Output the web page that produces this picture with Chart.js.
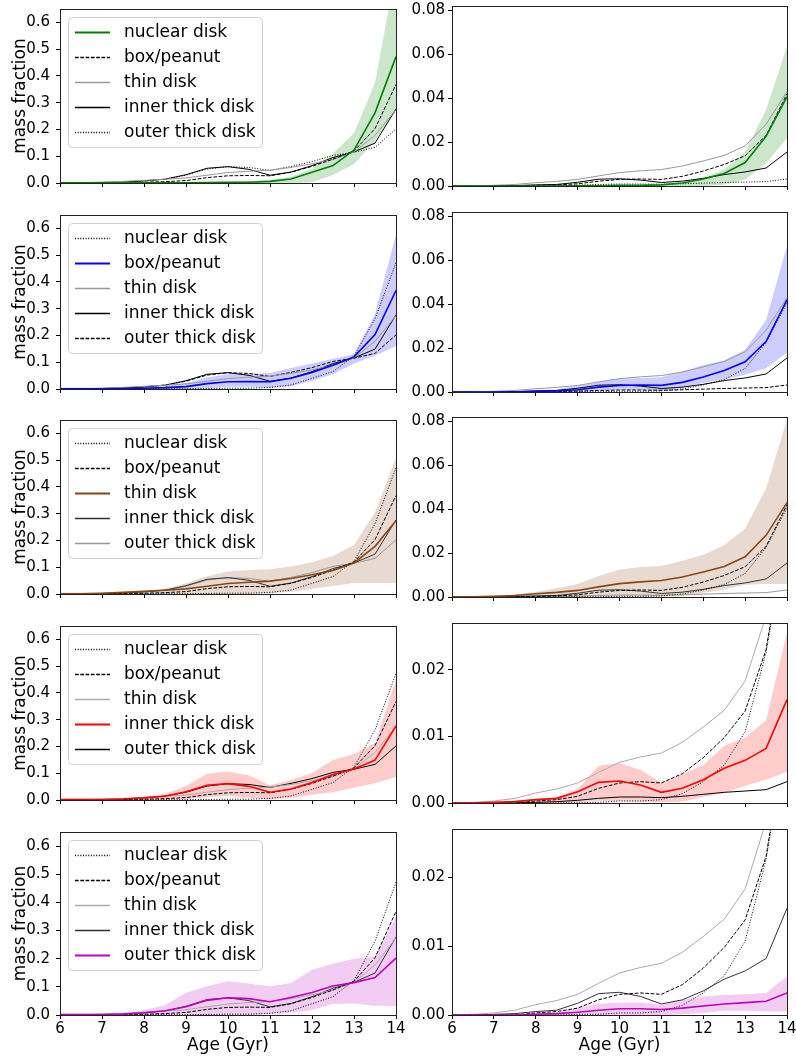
<!DOCTYPE html>
<html>
<head>
<meta charset="utf-8">
<script src="https://cdn.jsdelivr.net/npm/chart.js@4.4.1/dist/chart.umd.min.js"></script>
<style>
  body { margin: 0; background: #fff; width: 796px; height: 1058px; position: relative; overflow: hidden; }
  canvas { position: absolute; }
</style>
</head>
<body>
<script>
// age bins (Gyr)
const ages = [6, 6.5, 7, 7.5, 8, 8.5, 9, 9.5, 10, 10.5, 11, 11.5, 12, 12.5, 13, 13.5, 14];
const componentNames = ["nuclear disk", "box/peanut", "thin disk", "inner thick disk", "outer thick disk"];

// left column: mass fraction normalised within each component
const fracNuclear = [0.001, 0.001, 0.001, 0.001, 0.001, 0.001, 0.001, 0.002, 0.003, 0.003, 0.006, 0.015, 0.040, 0.065, 0.123, 0.262, 0.472];
const fracBox     = [0.001, 0.001, 0.001, 0.002, 0.003, 0.005, 0.009, 0.020, 0.027, 0.028, 0.027, 0.040, 0.062, 0.089, 0.120, 0.203, 0.368];
const fracThin    = [0.001, 0.001, 0.003, 0.006, 0.010, 0.014, 0.019, 0.029, 0.039, 0.044, 0.048, 0.058, 0.072, 0.088, 0.116, 0.178, 0.274];
const fracInner   = [0.002, 0.002, 0.002, 0.004, 0.008, 0.014, 0.031, 0.055, 0.061, 0.051, 0.029, 0.041, 0.065, 0.095, 0.116, 0.149, 0.277];
const fracOuter   = [0.002, 0.002, 0.002, 0.003, 0.008, 0.015, 0.029, 0.052, 0.061, 0.058, 0.047, 0.062, 0.080, 0.103, 0.115, 0.133, 0.202];

const fracNuclearLow  = [0, 0, 0, 0, 0, 0, 0, 0, 0, 0, 0, 0, 0.003, 0.030, 0.070, 0.158, 0.270];
const fracNuclearHigh = [0.002, 0.002, 0.002, 0.002, 0.002, 0.002, 0.003, 0.004, 0.005, 0.006, 0.012, 0.023, 0.053, 0.110, 0.187, 0.374, 0.800];
const fracBoxLow      = [0, 0, 0, 0, 0, 0, 0, 0.003, 0.008, 0.008, 0.004, 0.010, 0.031, 0.055, 0.095, 0.124, 0.161];
const fracBoxHigh     = [0.003, 0.003, 0.004, 0.005, 0.006, 0.010, 0.022, 0.043, 0.055, 0.057, 0.060, 0.078, 0.095, 0.113, 0.130, 0.280, 0.577];
const fracThinLow     = [0, 0, 0, 0, 0, 0, 0, 0, 0, 0.001, 0.003, 0.008, 0.020, 0.030, 0.041, 0.041, 0.041];
const fracThinHigh    = [0.002, 0.003, 0.004, 0.007, 0.010, 0.020, 0.040, 0.066, 0.084, 0.090, 0.092, 0.103, 0.119, 0.142, 0.183, 0.305, 0.508];
const fracInnerLow    = [0, 0, 0, 0, 0, 0, 0.003, 0.011, 0.015, 0.009, 0.002, 0.008, 0.020, 0.029, 0.046, 0.063, 0.086];
const fracInnerHigh   = [0.002, 0.002, 0.003, 0.004, 0.011, 0.023, 0.052, 0.098, 0.106, 0.092, 0.055, 0.075, 0.101, 0.149, 0.172, 0.213, 0.450];
const fracOuterLow    = [0, 0, 0, 0, 0, 0, 0, 0, 0, 0, 0.003, 0.008, 0.018, 0.039, 0.041, 0.033, 0.032];
const fracOuterHigh   = [0.003, 0.003, 0.004, 0.005, 0.018, 0.035, 0.079, 0.102, 0.120, 0.112, 0.102, 0.114, 0.161, 0.182, 0.200, 0.208, 0.350];

// right column: mass fraction of the whole galaxy
const massNuclear = [0, 0, 0, 0, 0, 0, 0.0001, 0.0001, 0.0003, 0.0003, 0.0005, 0.0014, 0.0032, 0.0057, 0.0107, 0.0226, 0.0406];
const massBox     = [0, 0, 0, 0, 0.0003, 0.0005, 0.0010, 0.0022, 0.0030, 0.0032, 0.0030, 0.0044, 0.0068, 0.0098, 0.0138, 0.0230, 0.0420];
const massThin    = [0, 0.0001, 0.0003, 0.0007, 0.0015, 0.0021, 0.0030, 0.0046, 0.0061, 0.0069, 0.0075, 0.0091, 0.0114, 0.0139, 0.0183, 0.0281, 0.0430];
const massInner   = [0, 0, 0.0001, 0.0002, 0.0005, 0.0007, 0.0017, 0.0031, 0.0033, 0.0027, 0.0016, 0.0022, 0.0035, 0.0052, 0.0064, 0.0082, 0.0155];
const massOuter   = [0, 0, 0, 0, 0.0001, 0.0002, 0.0004, 0.0007, 0.0009, 0.0009, 0.0008, 0.0010, 0.0013, 0.0016, 0.0018, 0.0020, 0.0032];

const massNuclearLow  = [0, 0, 0, 0, 0, 0, 0, 0, 0, 0, 0, 0, 0, 0.0006, 0.0030, 0.0104, 0.0218];
const massNuclearHigh = [0, 0, 0, 0, 0, 0, 0.0002, 0.0003, 0.0005, 0.0005, 0.0007, 0.0012, 0.0038, 0.0075, 0.0156, 0.0347, 0.0637];
const massBoxLow      = [0, 0, 0, 0, 0, 0, 0, 0.0006, 0.0009, 0.0009, 0.0004, 0.0020, 0.0042, 0.0057, 0.0079, 0.0108, 0.0180];
const massBoxHigh     = [0, 0.0001, 0.0002, 0.0004, 0.0007, 0.0013, 0.0028, 0.0045, 0.0060, 0.0064, 0.0067, 0.0094, 0.0123, 0.0145, 0.0193, 0.0328, 0.0665];
const massThinLow     = [0, 0, 0, 0, 0, 0, 0, 0.0001, 0.0002, 0.0002, 0.0002, 0.0004, 0.0018, 0.0034, 0.0056, 0.0059, 0.0059];
const massThinHigh    = [0, 0.0002, 0.0005, 0.0012, 0.0023, 0.0040, 0.0059, 0.0096, 0.0125, 0.0137, 0.0141, 0.0165, 0.0192, 0.0236, 0.0312, 0.0494, 0.0810];
const massInnerLow    = [0, 0, 0, 0, 0, 0, 0.0002, 0.0003, 0.0003, 0.0002, 0.0001, 0.0002, 0.0009, 0.0015, 0.0026, 0.0035, 0.0047];
const massInnerHigh   = [0, 0, 0.0001, 0.0003, 0.0005, 0.0009, 0.0021, 0.0056, 0.0060, 0.0050, 0.0030, 0.0043, 0.0057, 0.0086, 0.0098, 0.0124, 0.0256];
const massOuterLow    = [0, 0, 0, 0, 0, 0, 0, 0, 0, 0, 0, 0.0001, 0.0003, 0.0006, 0.0006, 0.0005, 0.0005];
const massOuterHigh   = [0, 0, 0, 0.0001, 0.0002, 0.0004, 0.0010, 0.0016, 0.0018, 0.0018, 0.0015, 0.0022, 0.0027, 0.0029, 0.0030, 0.0032, 0.0056];

const fracLines = [fracNuclear, fracBox, fracThin, fracInner, fracOuter];
const fracBands = [[fracNuclearLow, fracNuclearHigh], [fracBoxLow, fracBoxHigh], [fracThinLow, fracThinHigh], [fracInnerLow, fracInnerHigh], [fracOuterLow, fracOuterHigh]];
const massLines = [massNuclear, massBox, massThin, massInner, massOuter];
const massBands = [[massNuclearLow, massNuclearHigh], [massBoxLow, massBoxHigh], [massThinLow, massThinHigh], [massInnerLow, massInnerHigh], [massOuterLow, massOuterHigh]];

const HIGHLIGHT = ["#008000", "#0000ff", "#8b4513", "#ff0000", "#bf00bf"];
const BAND = ["rgba(0,128,0,0.2)", "rgba(0,0,255,0.2)", "rgba(139,69,19,0.2)", "rgba(255,0,0,0.2)", "rgba(191,0,191,0.2)"];

// how the other components are drawn in each row
const STYLES = {
  dash:  { color: "#000", dash: [3.7, 1.6], width: 1 },
  dot:   { color: "#000", dash: [1, 1.65], width: 1 },
  gray:  { color: "#999", dash: [], width: 1 },
  light: { color: "#aaa", dash: [], width: 1 },
  black: { color: "#000", dash: [], width: 1 },
  dark:  { color: "#333", dash: [], width: 1 },
};
const rowStyles = [
  [null, "dash", "gray", "black", "dot"],
  ["dot", null, "gray", "black", "dash"],
  ["dot", "dash", null, "dark", "gray"],
  ["dot", "dash", "light", null, "black"],
  ["dot", "dash", "light", "dark", null],
];

const PLOT_TOP = [6, 212, 417, 623, 829];
const PLOT_H = 186;
const PAD_TOP = 12, PAD_RIGHT = 14;
const columns = [
  { plotLeft: 60, plotW: 336, axisW: 60, tickPad: 6, lines: fracLines, bands: fracBands, dec: 1, step: 0.1, yMax: () => 0.65 },
  { plotLeft: 452, plotW: 335, axisW: 46, tickPad: 3, lines: massLines, bands: massBands, dec: 2, step: null, yMax: r => (r < 3 ? 0.082 : 0.027) },
];

Chart.defaults.font.family = "'DejaVu Sans', sans-serif";
Chart.defaults.color = "#000";

function lineStyle(row, k) {
  if (k === row) return { color: HIGHLIGHT[row], dash: [], width: 1.6 };
  return STYLES[rowStyles[row][k]];
}

function pts(vals) {
  return ages.map((a, i) => ({ x: a, y: vals[i] }));
}

function buildDatasets(row, lines, bands) {
  const [lo, hi] = bands[row];
  const sets = [
    { data: pts(lo), borderWidth: 0, borderColor: "rgba(0,0,0,0)", pointRadius: 0, fill: false, order: 10 },
    { data: pts(hi), borderWidth: 0, borderColor: "rgba(0,0,0,0)", pointRadius: 0, fill: "-1", backgroundColor: BAND[row], order: 10 },
  ];
  lines.forEach((vals, k) => {
    const st = lineStyle(row, k);
    sets.push({
      data: pts(vals), borderColor: st.color, borderDash: st.dash, borderWidth: st.width,
      pointRadius: 0, fill: false, tension: 0, order: k === row ? 0 : 1,
    });
  });
  return sets;
}

// top and right spines
const framePlugin = {
  id: "frame",
  afterDraw(chart) {
    const { ctx, chartArea: a } = chart;
    ctx.save();
    ctx.strokeStyle = "#222";
    ctx.lineWidth = 1;
    ctx.strokeRect(Math.round(a.left) + 0.5, Math.round(a.top) + 0.5, Math.round(a.right - a.left), Math.round(a.bottom - a.top));
    ctx.restore();
  },
};

function legendPlugin(row) {
  return {
    id: "panelLegend",
    afterDraw(chart) {
      const { ctx, chartArea } = chart;
      const x0 = Math.round(chartArea.left) + 8, y0 = Math.round(chartArea.top) + 8;
      ctx.save();
      ctx.beginPath();
      ctx.roundRect(x0 + 0.5, y0 + 0.5, 194, 130, 4);
      ctx.fillStyle = "rgba(255,255,255,0.8)";
      ctx.fill();
      ctx.strokeStyle = "#d0d0d0";
      ctx.lineWidth = 1;
      ctx.stroke();
      ctx.font = "17px 'DejaVu Sans'";
      ctx.textBaseline = "middle";
      componentNames.forEach((name, k) => {
        const st = lineStyle(row, k);
        const y = y0 + 15 + k * 25 + 0.5;
        ctx.beginPath();
        ctx.setLineDash(st.dash);
        ctx.strokeStyle = st.color;
        ctx.lineWidth = st.width + 0.4;
        ctx.moveTo(x0 + 7, y);
        ctx.lineTo(x0 + 42, y);
        ctx.stroke();
        ctx.setLineDash([]);
        ctx.fillStyle = "#000";
        ctx.fillText(name, x0 + 56, y);
      });
      ctx.restore();
    },
  };
}

const tickGrid = { drawOnChartArea: false, drawTicks: true, tickLength: 4, tickColor: "#000" };
const axisBorder = { display: true, color: "#222", width: 1 };

for (let row = 0; row < 5; row++) {
  const bottom = row === 4;
  columns.forEach((col, c) => {
    const xAxisH = bottom ? 42 : 6;
    const canvas = document.createElement("canvas");
    canvas.width = col.axisW + col.plotW + PAD_RIGHT;
    canvas.height = PAD_TOP + PLOT_H + xAxisH;
    canvas.style.left = (col.plotLeft - col.axisW) + "px";
    canvas.style.top = (PLOT_TOP[row] - PAD_TOP) + "px";
    document.body.appendChild(canvas);

    const yMax = col.yMax(row);
    const step = col.step || (yMax > 0.05 ? 0.02 : 0.01);

    new Chart(canvas, {
      type: "line",
      data: { datasets: buildDatasets(row, col.lines, col.bands) },
      plugins: c === 0 ? [framePlugin, legendPlugin(row)] : [framePlugin],
      options: {
        responsive: false,
        animation: false,
        events: [],
        layout: { padding: { top: PAD_TOP, right: PAD_RIGHT, left: 0, bottom: 0 } },
        plugins: { legend: { display: false }, tooltip: { enabled: false } },
        scales: {
          x: {
            type: "linear", min: 6, max: 14,
            ticks: { stepSize: 1, display: bottom, font: { size: 15 }, padding: 1, includeBounds: false },
            grid: tickGrid,
            border: axisBorder,
            title: { display: bottom, text: "Age (Gyr)", font: { size: 17 }, padding: { top: 0, bottom: 1 } },
            afterFit: s => { s.height = xAxisH; },
          },
          y: {
            type: "linear", min: 0, max: yMax,
            ticks: { stepSize: step, font: { size: 15 }, padding: col.tickPad, includeBounds: false, callback: v => v.toFixed(col.dec) },
            grid: tickGrid,
            border: axisBorder,
            title: { display: c === 0, text: "mass fraction", font: { size: 17 }, padding: { top: 10, bottom: 0 } },
            afterFit: s => { s.width = col.axisW; },
          },
        },
      },
    });
  });
}
</script>
</body>
</html>
